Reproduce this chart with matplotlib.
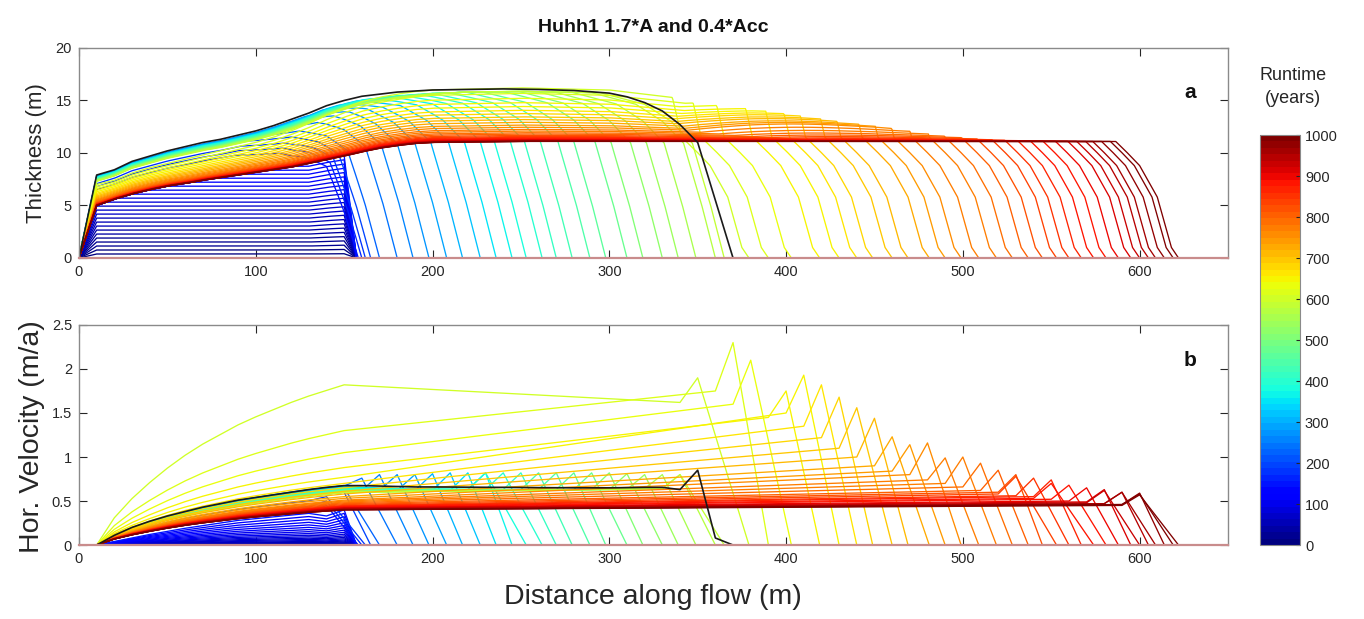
import numpy as np
import matplotlib
matplotlib.use("Agg")
import matplotlib as mpl
import matplotlib.pyplot as plt
from matplotlib.colors import Normalize

plt.rcParams['font.family'] = ['Liberation Sans', 'DejaVu Sans']

# ---------------- data ----------------
title = "Huhh1 1.7*A and 0.4*Acc"
x_ticks = [0, 100, 200, 300, 400, 500, 600]
thick_ticks = [0, 5, 10, 15, 20]
vel_ticks = [0, 0.5, 1, 1.5, 2, 2.5]
cbar_ticks = [0, 100, 200, 300, 400, 500, 600, 700, 800, 900, 1000]

# highlighted (black) profile
black_x = [0, 10, 20, 30, 40, 50, 60, 70, 80, 90, 100, 110, 120, 130, 140, 150, 160, 170, 180, 190, 200,
           220, 240, 260, 280, 300, 310, 320, 330, 340, 350, 360, 370, 650]
black_thick = [0, 7.9, 8.4, 9.2, 9.7, 10.2, 10.6, 11.0, 11.3, 11.7, 12.1, 12.6, 13.2, 13.8, 14.5, 15.0, 15.4, 15.6, 15.8, 15.9, 16.0,
               16.05, 16.1, 16.05, 15.95, 15.7, 15.35, 14.8, 14.0, 12.7, 11.0, 5.5, 0, 0]
black_vel = [0, 0, 0.11, 0.2, 0.27, 0.33, 0.38, 0.43, 0.47, 0.51, 0.54, 0.57, 0.6, 0.63, 0.655, 0.675, 0.675, 0.67, 0.665, 0.66, 0.66,
             0.657, 0.655, 0.652, 0.65, 0.65, 0.652, 0.655, 0.655, 0.63, 0.85, 0.08, 0, 0]

# surface envelopes (thickness, m)
env_x = [0, 10, 20, 30, 40, 50, 60, 70, 80, 90, 100, 110, 120, 130, 140, 150, 160, 170, 180, 190, 200,
         250, 300, 320, 340, 360, 380, 400, 430, 460, 490, 520, 550, 580, 650]
thick_final = [0, 5.0, 5.6, 6.1, 6.5, 6.85, 7.1, 7.4, 7.65, 7.9, 8.15, 8.4, 8.65, 9.0, 9.35, 9.7, 10.1, 10.45, 10.7, 10.9, 11.0,
               11.1, 11.1, 11.1, 11.1, 11.1, 11.1, 11.1, 11.1, 11.1, 11.1, 11.1, 11.1, 11.1, 11.1]
thick_advance = [0, 7.9, 8.4, 9.2, 9.7, 10.2, 10.6, 11.0, 11.3, 11.7, 12.1, 12.6, 13.2, 13.8, 14.5, 15.0, 15.4, 15.6, 15.8, 15.9, 16.0,
                 16.1, 15.95, 15.9, 15.85, 15.8, 15.75, 15.7, 15.6, 15.5, 15.4, 15.3, 15.2, 15.1, 15.0]
thick_peak = [0, 7.0, 7.4, 8.1, 8.6, 9.0, 9.4, 9.8, 10.2, 10.6, 11.0, 11.5, 12.1, 12.8, 13.6, 14.3, 14.9, 15.3, 15.6, 15.85, 16.0,
              16.2, 16.0, 15.6, 15.2, 14.8, 14.4, 13.9, 13.1, 12.4, 11.9, 11.5, 11.25, 11.15, 11.1]

# ice-front shapes vs distance behind the front
frontA_d = [0, 8, 18, 30, 45, 70, 1000]            # advancing phase: fraction of surface
frontA_f = [0, 0.33, 0.69, 0.82, 0.92, 0.985, 1.0]
frontB_d = [0, 4, 12, 22, 30, 38, 45, 1000]        # thinning phase: thickness (m)
frontB_h = [0, 1.0, 5.8, 8.8, 10.2, 11.5, 16.5, 40]

# velocity shape upstream of x = 150 m (fraction of velocity at 150 m)
vshape_x = [0, 10, 20, 30, 40, 50, 60, 70, 80, 90, 100, 110, 120, 130, 140, 150]
vshape_f = [0, 0, 0.17, 0.29, 0.39, 0.48, 0.56, 0.63, 0.69, 0.75, 0.8, 0.845, 0.89, 0.93, 0.965, 1.0]

# phase 1: ice builds up in place (t < 150 yr)
p1_time = [6, 12, 18, 24, 30, 36, 42, 48, 54, 60, 66, 72, 78, 84, 90, 96, 102, 108, 114, 120, 126, 132, 138, 144]
p1_height = [0.38, 0.76, 1.14, 1.52, 1.9, 2.28, 2.66, 3.04, 3.42, 3.8, 4.18, 4.56, 4.94, 5.32, 5.7, 6.08,
             6.46, 6.84, 7.22, 7.6, 7.98, 8.36, 8.74, 9.12]
p1_x = [0, 10, 130, 140, 150, 157, 650]
p1_shape = [0, 1, 1, 1.04, 1.07, 0, 0]
p1_vx = [0, 10, 20, 30, 40, 50, 60, 70, 80, 90, 100, 110, 120, 130, 140, 150, 157, 650]
p1_vtop = [0, 0, 0.04, 0.08, 0.12, 0.155, 0.19, 0.22, 0.25, 0.28, 0.30, 0.32, 0.34, 0.36, 0.33, 0.40, 0, 0]

# phase 2: advancing thick front (150-590 yr)
p2_time = [150, 168, 185, 203, 220, 238, 256, 273, 291, 308, 326, 344, 361, 379, 396, 414, 432, 449, 467, 484,
           502, 520, 537, 555, 572, 590]
p2_front = [158, 160, 162, 165, 170, 180, 189, 198, 208, 217, 227, 236, 245, 253, 262, 270, 279, 289, 298, 310,
            319, 330, 339, 349, 360, 365]
p2_fill = [0.55, 0.65, 0.75, 0.85, 0.92, 0.97, 1.0, 1.0, 0.99, 0.98, 0.97, 0.96, 0.95, 0.94, 0.93, 0.92,
           0.91, 0.9, 0.89, 0.88, 0.87, 0.86, 0.85, 0.84, 0.83, 0.82]
p2_v150 = [0.4, 0.47, 0.54, 0.6, 0.64, 0.67, 0.675, 0.675, 0.67, 0.665, 0.66, 0.655, 0.65, 0.645, 0.64, 0.635,
           0.63, 0.625, 0.62, 0.615, 0.61, 0.605, 0.6, 0.6, 0.6, 0.6]
p2_vpre = [0.4, 0.47, 0.54, 0.6, 0.62, 0.62, 0.62, 0.62, 0.62, 0.62, 0.62, 0.62, 0.63, 0.63, 0.63, 0.63,
           0.63, 0.63, 0.63, 0.63, 0.63, 0.63, 0.63, 0.64, 0.64, 0.64]
p2_peak_x = [140, 140, 140, 150, 150, 160, 170, 180, 190, 200, 210, 220, 230, 230, 240, 250, 260, 270, 280, 290,
             300, 310, 320, 330, 340, 340]
p2_peak = [0.45, 0.5, 0.55, 0.6, 0.65, 0.76, 0.8, 0.8, 0.8, 0.81, 0.82, 0.82, 0.82, 0.82, 0.82, 0.82, 0.82, 0.82,
           0.82, 0.82, 0.82, 0.81, 0.8, 0.8, 0.8, 0.8]

# phase 3: thinning and further advance (600-1000 yr)
p3_time = [600, 614, 628, 641, 655, 669, 683, 697, 710, 724, 738, 752, 766, 779, 793, 807, 821, 834, 848, 862,
           876, 890, 903, 917, 931, 945, 959, 972, 986, 1000]
p3_front = [379, 390, 403, 419, 430, 440, 449, 460, 469, 481, 490, 499, 509, 519, 528, 537, 545, 553, 560, 567,
            574, 581, 588, 595, 600, 605, 609, 614, 619, 622]
p3_h300 = [16.0, 15.5, 15.05, 14.65, 14.3, 13.95, 13.65, 13.35, 13.1, 12.85, 12.6, 12.4, 12.2, 12.05, 11.9, 11.78,
           11.66, 11.56, 11.48, 11.41, 11.35, 11.3, 11.26, 11.22, 11.19, 11.16, 11.14, 11.12, 11.11, 11.1]
p3_v150 = [1.82, 1.30, 1.05, 0.88, 0.77, 0.70, 0.65, 0.61, 0.58, 0.55, 0.53, 0.51, 0.50, 0.49, 0.48, 0.47, 0.46,
           0.45, 0.445, 0.44, 0.435, 0.43, 0.425, 0.42, 0.415, 0.41, 0.405, 0.40, 0.40, 0.40]
p3_vpre = [1.62, 1.75, 1.6, 1.45, 1.5, 1.35, 1.22, 1.1, 1.0, 0.9, 0.84, 0.8, 0.74, 0.7, 0.66, 0.62, 0.6, 0.58,
           0.56, 0.55, 0.53, 0.52, 0.5, 0.49, 0.48, 0.47, 0.47, 0.46, 0.46, 0.45]
p3_peak_x = [350, 370, 380, 400, 410, 420, 430, 440, 450, 460, 470, 480, 490, 500, 510, 520, 530, 530, 540, 550,
             550, 560, 570, 580, 580, 590, 590, 600, 600, 600]
p3_peak = [1.9, 2.3, 2.1, 1.75, 1.93, 1.82, 1.68, 1.56, 1.44, 1.23, 1.14, 1.16, 0.99, 1.0, 0.93, 0.85, 0.8, 0.78,
           0.76, 0.74, 0.7, 0.68, 0.65, 0.63, 0.62, 0.6, 0.6, 0.59, 0.58, 0.57]

# ---------------- drawing ----------------
cmap = mpl.colormaps['jet'].resampled(64)
norm = Normalize(0, 1000)
xf = np.linspace(0, 650, 1301)
nodes = np.arange(0, 660, 10)
R = np.interp(xf, env_x, thick_final)
T = np.interp(xf, env_x, thick_advance)
Y = np.interp(xf, env_x, thick_peak)


def velocity_line(v150, vpre, p, pk, F):
    xs, vs = [], []
    for n in nodes:
        if n >= p:
            break
        if n <= 150:
            v = v150 * np.interp(n, vshape_x, vshape_f)
        else:
            span = max(p - 10 - 150, 10)
            v = v150 + (vpre - v150) * (n - 150) / span
        xs.append(n)
        vs.append(v)
    xs += [p, F, 650]
    vs += [pk, 0, 0]
    return xs, vs


fig = plt.figure(figsize=(13.64, 6.19), dpi=100)
ax1 = fig.add_axes([0.0579, 0.5832, 0.8424, 0.3393])
ax2 = fig.add_axes([0.0579, 0.1195, 0.8424, 0.3555])
cax = fig.add_axes([0.9238, 0.1195, 0.0293, 0.6624])

lw = 0.95
hmax = max(p1_height)
p1_xf = np.interp(xf, p1_x, p1_shape)
for t, h in zip(p1_time, p1_height):
    c = cmap(norm(t))
    H = p1_xf * h
    H = np.where(xf <= 130, np.minimum(H, R), H)
    ax1.plot(xf, H, color=c, lw=lw)
    ax2.plot(p1_vx, np.array(p1_vtop) * (h / hmax) ** 2.5, color=c, lw=lw)

downstream = np.interp(xf, [120, 220], [0, 1])
for i, t in enumerate(p2_time):
    c = cmap(norm(t))
    F = p2_front[i]
    fill = p2_fill[i] + (1 - p2_fill[i]) * downstream
    S = R + fill * (T - R)
    H = S * np.interp(F - xf, frontA_d, frontA_f)
    ax1.plot(xf, H, color=c, lw=lw)
    vx, vv = velocity_line(p2_v150[i], p2_vpre[i], p2_peak_x[i], p2_peak[i], F)
    ax2.plot(vx, vv, color=c, lw=lw)

for i, t in enumerate(p3_time):
    c = cmap(norm(t))
    F = p3_front[i]
    s = (p3_h300[i] - 11.1) / (16.0 - 11.1)
    w = np.interp(F - xf, [30, 200], [1, 0]) * min(1.0, 4 * s)
    mix = np.maximum(s, w)
    S = R + mix * (Y - R)
    H = np.minimum(S, np.interp(F - xf, frontB_d, frontB_h))
    ax1.plot(xf, H, color=c, lw=lw)
    vx, vv = velocity_line(p3_v150[i], p3_vpre[i], p3_peak_x[i], p3_peak[i], F)
    ax2.plot(vx, vv, color=c, lw=lw)

ax1.plot(black_x, black_thick, color='#1a1a1a', lw=1.2)
ax2.plot(black_x, black_vel, color='#1a1a1a', lw=1.2)

spine_c = '#8a8a8a'
for ax, yt, ylim in [(ax1, thick_ticks, (0, 20)), (ax2, vel_ticks, (0, 2.5))]:
    ax.set_xlim(0, 650)
    ax.set_ylim(*ylim)
    ax.set_xticks(x_ticks)
    ax.set_yticks(yt)
    ax.set_yticklabels([('%g' % v) for v in yt])
    ax.tick_params(direction='in', length=6, width=0.8, top=True, right=True,
                   color='#262626', labelcolor='#262626', labelsize=10.5, pad=5)
    for sp in ax.spines.values():
        sp.set_color(spine_c)
        sp.set_linewidth(1.0)
    ax.spines['bottom'].set_color('#c98c8c')
    ax.spines['bottom'].set_linewidth(1.6)

ax1.text(0.967, 0.786, 'a', transform=ax1.transAxes, fontsize=15, fontweight='bold',
         ha='center', va='center', color='#111111')
ax2.text(0.967, 0.84, 'b', transform=ax2.transAxes, fontsize=15, fontweight='bold',
         ha='center', va='center', color='#111111')

fig.text(0.479, 0.955, title, ha='center', va='center', fontsize=14, fontweight='bold', color='#111111')
fig.text(0.0265, 0.7525, 'Thickness (m)', rotation=90, ha='center', va='center', fontsize=16, color='#262626')
fig.text(0.0235, 0.294, 'Hor. Velocity (m/a)', rotation=90, ha='center', va='center', fontsize=20.5,
         color='#262626')
fig.text(0.479, 0.036, 'Distance along flow (m)', ha='center', va='center', fontsize=20.5, color='#262626')

cb = mpl.colorbar.ColorbarBase(cax, cmap=cmap, norm=norm, ticks=cbar_ticks)
cb.outline.set_edgecolor(spine_c)
cax.yaxis.set_ticks_position('right')
cax.tick_params(direction='in', length=3, width=0.8, color='#262626', labelcolor='#262626', labelsize=10.5)
fig.text(0.948, 0.859, 'Runtime\n(years)', ha='center', va='center', fontsize=13, color='#262626',
         linespacing=1.45)

fig.savefig('out.png', dpi=100)
